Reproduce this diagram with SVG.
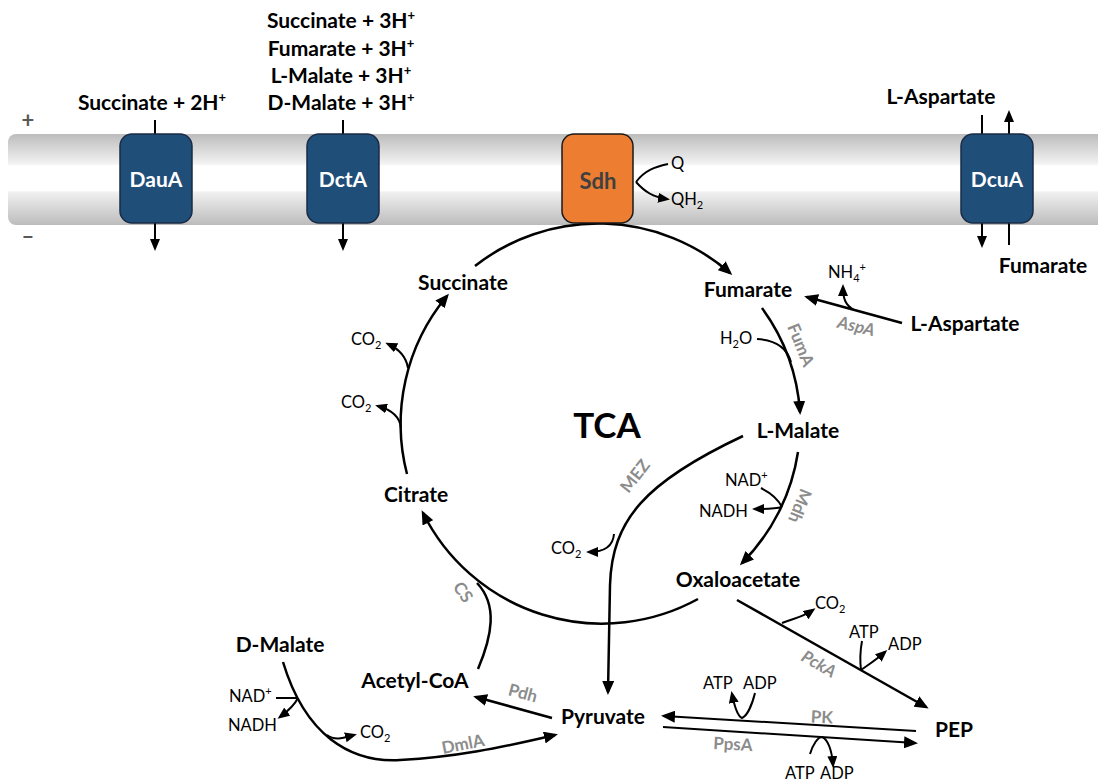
<svg xmlns="http://www.w3.org/2000/svg" width="1098" height="782" viewBox="0 0 1098 782">
<defs>
<linearGradient id="mem" x1="0" y1="0" x2="0" y2="1">
<stop offset="0" stop-color="#bcbcbc"/>
<stop offset="0.33" stop-color="#f3f3f3"/>
<stop offset="0.35" stop-color="#ffffff"/>
<stop offset="0.62" stop-color="#ffffff"/>
<stop offset="0.64" stop-color="#f0f0f0"/>
<stop offset="1" stop-color="#bcbcbc"/>
</linearGradient>
<marker id="ah" markerUnits="userSpaceOnUse" markerWidth="14" markerHeight="12" viewBox="0 0 14 12" refX="11" refY="6" orient="auto">
<path d="M0,0 L14,6 L0,12 z" fill="#000"/>
</marker>
<marker id="as" markerUnits="userSpaceOnUse" markerWidth="12" markerHeight="10" viewBox="0 0 12 10" refX="9" refY="5" orient="auto">
<path d="M0,0 L12,5 L0,10 z" fill="#000"/>
</marker>
</defs>
<style>
.b{font-family:Lato,"Liberation Sans",sans-serif;font-weight:bold;font-size:21px;fill:#000;text-anchor:middle}
.s{font-family:Lato,"Liberation Sans",sans-serif;font-size:16.5px;fill:#000}
.e{font-family:Lato,"Liberation Sans",sans-serif;font-weight:bold;font-size:17px;fill:#8c8c8c;text-anchor:middle}
.t{font-family:Lato,"Liberation Sans",sans-serif;font-weight:bold;font-size:21px;fill:#fff;text-anchor:middle}
.m{fill:none;stroke:#000;stroke-width:2.5}
.n{fill:none;stroke:#000;stroke-width:2}
.box{fill:#1f4e79;stroke:#1b2b45;stroke-width:1.5}
.pm{font-family:Lato,"Liberation Sans",sans-serif;font-weight:bold;font-size:22px;fill:#595959;text-anchor:middle}
</style>

<g id="membrane">
<rect x="8" y="134" width="1100" height="91" rx="8" fill="url(#mem)"/>
<text class="pm" x="28" y="128">+</text>
<text class="pm" x="28" y="244">–</text>
</g>

<g id="connectors">
<path class="n" d="M155,120 V134"/>
<path class="n" d="M155,223 V248" marker-end="url(#as)"/>
<path class="n" d="M343,120 V134"/>
<path class="n" d="M343,223 V248" marker-end="url(#as)"/>
<path class="n" d="M982,115 V245" marker-end="url(#as)"/>
<path class="n" d="M1009,245 V113" marker-end="url(#as)"/>
<path class="n" d="M636,182 C645,170 655,167 668,164"/>
<path class="n" d="M636,182 C645,192 653,197 667,199" marker-end="url(#as)"/>
<path class="m" d="M475,266 A200,200 0 0 1 730,273" marker-end="url(#ah)"/>
<path class="m" d="M762,308 A200,200 0 0 1 800,412" marker-end="url(#ah)"/>
<path class="m" d="M798,452 A200,200 0 0 1 742,563" marker-end="url(#ah)"/>
<path class="m" d="M698,599 A200,200 0 0 1 423,513" marker-end="url(#ah)"/>
<path class="m" d="M407,474 A200,200 0 0 1 447,296" marker-end="url(#ah)"/>
<path class="n" d="M408,368 C406,356 399,349 388,344" marker-end="url(#as)"/>
<path class="n" d="M401,428 C400,417 392,410 378,406" marker-end="url(#as)"/>
<path class="n" d="M757,339 C775,340 787,348 791,362"/>
<path class="m" d="M902,323 L807,297" marker-end="url(#ah)"/>
<path class="n" d="M854,310 C845,305 843,298 843,287" marker-end="url(#as)"/>
<path class="n" d="M761,488 C771,493 778,499 782,507"/>
<path class="n" d="M782,507 C775,509 766,509 755,509" marker-end="url(#as)"/>
<path class="m" d="M743,436 C645,482 612,520 610,585 L608,692" marker-end="url(#ah)"/>
<path class="n" d="M614,534 C613,547 604,552 589,552" marker-end="url(#as)"/>
<path class="m" d="M478,669 C492,636 498,605 477,583"/>
<path class="m" d="M737,600 L926,707" marker-end="url(#ah)"/>
<path class="n" d="M782,623 C795,618 803,617 813,610" marker-end="url(#as)"/>
<path class="n" d="M862,641 C860,652 860,662 861,670"/>
<path class="n" d="M861,670 C868,665 876,660 885,652" marker-end="url(#as)"/>
<path class="n" d="M916,731 L664,716" marker-end="url(#ah)"/>
<path class="n" d="M663,727 L915,743" marker-end="url(#ah)"/>
<path class="n" d="M755,693 C752,705 747,716 742,718 C737,716 734,704 732,694" marker-end="url(#as)"/>
<path class="n" d="M810,754 C813,744 818,737 822,737 C828,739 832,751 833,765" marker-end="url(#as)"/>
<path class="m" d="M552,718 L476,697" marker-end="url(#ah)"/>
<path class="m" d="M283,662 C305,735 350,763 400,760 C455,757 500,748 555,735" marker-end="url(#ah)"/>
<path class="n" d="M276,698 L298,698"/>
<path class="n" d="M298,698 C294,706 288,711 280,717" marker-end="url(#as)"/>
<path class="n" d="M327,735 C335,741 343,738 354,735" marker-end="url(#as)"/>
</g>

<g id="DauA">
<rect class="box" x="120" y="134" width="72" height="89" rx="12"/>
<text class="t" x="156" y="187">DauA</text>
</g>
<g id="DctA">
<rect class="box" x="307" y="134" width="72" height="89" rx="12"/>
<text class="t" x="343" y="187">DctA</text>
</g>
<g id="Sdh">
<rect x="562" y="134" width="71" height="89" rx="12" fill="#ed7d31" stroke="#1a1a1a" stroke-width="1.5"/>
<text class="t" x="598" y="189" style="fill:#404040;font-size:22px">Sdh</text>
<text class="s" x="671" y="169">Q</text>
<text class="s" x="671" y="205">QH<tspan dy="4" font-size="11">2</tspan></text>
</g>
<g id="DcuA">
<rect class="box" x="961" y="134" width="72" height="89" rx="12"/>
<text class="t" x="997" y="187">DcuA</text>
</g>

<g id="top-labels">
<text class="b" x="152" y="110">Succinate + 2H<tspan dy="-8" font-size="13">+</tspan></text>
<text class="b" x="341" y="28">Succinate + 3H<tspan dy="-8" font-size="13">+</tspan></text>
<text class="b" x="341" y="56">Fumarate + 3H<tspan dy="-8" font-size="13">+</tspan></text>
<text class="b" x="341" y="83">L-Malate + 3H<tspan dy="-8" font-size="13">+</tspan></text>
<text class="b" x="341" y="110">D-Malate + 3H<tspan dy="-8" font-size="13">+</tspan></text>
<text class="b" x="941" y="104">L-Aspartate</text>
<text class="b" x="1043" y="273">Fumarate</text>
</g>

<g id="TCA"><text class="b" x="607" y="438" style="font-size:35px">TCA</text></g>
<g id="Succinate"><text class="b" x="463" y="290">Succinate</text>
<text class="s" x="351" y="345">CO<tspan dy="4" font-size="11">2</tspan></text>
<text class="s" x="341" y="408">CO<tspan dy="4" font-size="11">2</tspan></text></g>
<g id="Fumarate"><text class="b" x="748" y="297">Fumarate</text></g>
<g id="L-Aspartate"><text class="b" x="965" y="331">L-Aspartate</text>
<text class="s" x="828" y="278">NH<tspan dy="4" font-size="11">4</tspan><tspan dy="-11" font-size="11">+</tspan></text>
<text class="e" x="856" y="332" transform="rotate(13 856 327)" font-style="italic">AspA</text></g>
<g id="FumA"><text class="s" x="720" y="344">H<tspan dy="4" font-size="11">2</tspan><tspan dy="-4">O</tspan></text>
<text class="e" x="801" y="351" transform="rotate(68 801 345)">FumA</text></g>
<g id="L-Malate"><text class="b" x="798" y="438">L-Malate</text></g>
<g id="Mdh"><text class="s" x="725" y="486">NAD<tspan dy="-7" font-size="11">+</tspan></text>
<text class="s" x="699" y="517">NADH</text>
<text class="e" x="800" y="512" transform="rotate(112 800 506)">Mdh</text></g>
<g id="MEZ"><text class="e" x="635" y="482" transform="rotate(-52 635 476)">MEZ</text>
<text class="s" x="551" y="554">CO<tspan dy="4" font-size="11">2</tspan></text></g>
<g id="Oxaloacetate"><text class="b" x="738" y="587">Oxaloacetate</text></g>
<g id="Citrate"><text class="b" x="416" y="502">Citrate</text>
<text class="e" x="463" y="598" transform="rotate(55 463 592)">CS</text></g>
<g id="PckA"><text class="s" x="815" y="609">CO<tspan dy="4" font-size="11">2</tspan></text>
<text class="s" x="849" y="638">ATP</text>
<text class="s" x="888" y="650">ADP</text>
<text class="e" x="819" y="670" transform="rotate(30 819 664)" font-style="italic">PckA</text></g>
<g id="PEP"><text class="b" x="954" y="737">PEP</text></g>
<g id="Pyruvate"><text class="b" x="603" y="724">Pyruvate</text></g>
<g id="PK"><text class="s" x="703" y="689">ATP</text>
<text class="s" x="743" y="689">ADP</text>
<text class="e" x="822" y="723" transform="rotate(3 822 717)">PK</text></g>
<g id="PpsA"><text class="e" x="733" y="750" transform="rotate(3 733 744)">PpsA</text>
<text class="s" x="785" y="779">ATP</text>
<text class="s" x="820" y="779">ADP</text></g>
<g id="Acetyl-CoA"><text class="b" x="415" y="688">Acetyl-CoA</text>
<text class="e" x="523" y="699" transform="rotate(15 523 693)">Pdh</text></g>
<g id="D-Malate"><text class="b" x="280" y="652">D-Malate</text>
<text class="s" x="229" y="702">NAD<tspan dy="-7" font-size="11">+</tspan></text>
<text class="s" x="228" y="731">NADH</text>
<text class="s" x="360" y="738">CO<tspan dy="4" font-size="11">2</tspan></text>
<text class="e" x="463" y="750" transform="rotate(-11 463 744)">DmlA</text></g>
</svg>
